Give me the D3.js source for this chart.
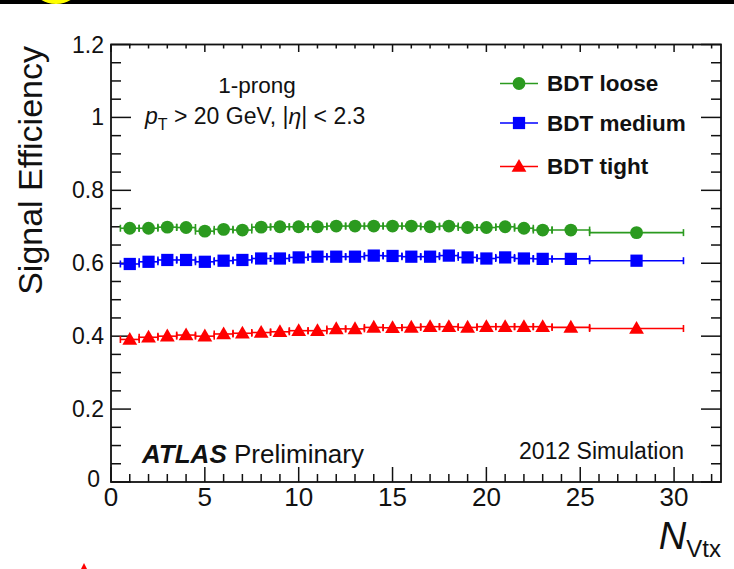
<!DOCTYPE html>
<html>
<head>
<meta charset="utf-8">
<script src="https://cdn.jsdelivr.net/npm/d3@7"></script>
<style>
  html, body { margin: 0; padding: 0; background: #fff; }
  svg { display: block; font-family: "Liberation Sans", Arial, Helvetica, sans-serif; }
</style>
</head>
<body>
<svg id="chart" width="734" height="569"></svg>
<script>
// Number of reconstructed vertices (bin centres) and bin edges
const nVtx    = [1,2,3,4,5,6,7,8,9,10,11,12,13,14,15,16,17,18,19,20,21,22,23,24.5,28];
const binLow  = [0.5,1.5,2.5,3.5,4.5,5.5,6.5,7.5,8.5,9.5,10.5,11.5,12.5,13.5,14.5,15.5,16.5,17.5,18.5,19.5,20.5,21.5,22.5,23.5,25.5];
const binHigh = [1.5,2.5,3.5,4.5,5.5,6.5,7.5,8.5,9.5,10.5,11.5,12.5,13.5,14.5,15.5,16.5,17.5,18.5,19.5,20.5,21.5,22.5,23.5,25.5,30.5];

// Signal efficiency per working point
const effLoose  = [0.696,0.696,0.699,0.698,0.688,0.693,0.691,0.699,0.700,0.700,0.700,0.702,0.702,0.702,
                   0.702,0.702,0.700,0.702,0.698,0.698,0.700,0.696,0.691,0.691,0.684];
const effMedium = [0.598,0.604,0.609,0.609,0.604,0.607,0.609,0.613,0.613,0.616,0.618,0.618,0.618,0.621,
                   0.620,0.618,0.618,0.621,0.616,0.613,0.616,0.613,0.612,0.612,0.607];
const effTight  = [0.391,0.397,0.400,0.403,0.400,0.406,0.408,0.410,0.412,0.415,0.415,0.420,0.420,0.424,
                   0.423,0.424,0.426,0.426,0.424,0.426,0.426,0.426,0.426,0.424,0.421];

const seriesNames = ["BDT loose", "BDT medium", "BDT tight"];
const xTicks = [0, 5, 10, 15, 20, 25, 30];
const yTicks = [0, 0.2, 0.4, 0.6, 0.8, 1, 1.2];

const svg = d3.select("#chart");

// decoration strip along the top edge
svg.append("rect").attr("x", 0).attr("y", 0).attr("width", 734).attr("height", 4).attr("fill", "#000");
svg.append("ellipse").attr("cx", 56).attr("cy", -12).attr("rx", 22).attr("ry", 16).attr("fill", "#ffff00");
svg.append("path").attr("d", "M84,563 L87,569 L81,569 Z").attr("fill", "#ff0000");

const frame = { left: 111, right: 721, top: 44.5, bottom: 482 };
const x = d3.scaleLinear().domain([0, 32.5]).range([frame.left, frame.right]);
const y = d3.scaleLinear().domain([0, 1.2]).range([frame.bottom, frame.top]);

const axisColor = "#111";
const g = svg.append("g");

// inward-pointing ticks on all four sides
function ticks(values, len, orient) {
  values.forEach(v => {
    if (orient === "bottom") {
      g.append("line").attr("x1", x(v)).attr("x2", x(v)).attr("y1", frame.bottom).attr("y2", frame.bottom - len);
    } else if (orient === "top") {
      g.append("line").attr("x1", x(v)).attr("x2", x(v)).attr("y1", frame.top).attr("y2", frame.top + len * 0.5);
    } else if (orient === "left") {
      g.append("line").attr("y1", y(v)).attr("y2", y(v)).attr("x1", frame.left).attr("x2", frame.left + len);
    } else {
      g.append("line").attr("y1", y(v)).attr("y2", y(v)).attr("x1", frame.right).attr("x2", frame.right - len);
    }
  });
}
const xMinor = d3.range(1, 33).filter(v => v % 5 !== 0);
const yMinor = d3.range(1, 24).map(i => i * 0.05).filter((v, i) => (i + 1) % 4 !== 0);
ticks(xTicks, 15, "bottom"); ticks(xMinor, 8, "bottom");
ticks(xTicks, 15, "top");    ticks(xMinor, 8, "top");
ticks(yTicks, 20, "left");   ticks(yMinor, 10, "left");
ticks(yTicks, 20, "right");  ticks(yMinor, 10, "right");
g.selectAll("line").attr("stroke", axisColor).attr("stroke-width", 1.5);

g.append("rect")
  .attr("x", frame.left).attr("y", frame.top)
  .attr("width", frame.right - frame.left).attr("height", frame.bottom - frame.top)
  .attr("fill", "none").attr("stroke", axisColor).attr("stroke-width", 1.8);

// tick labels
svg.append("g").selectAll("text").data(xTicks).join("text")
  .attr("x", d => x(d)).attr("y", 506)
  .attr("text-anchor", "middle").attr("font-size", 26).attr("fill", "#111")
  .text(d => d);
svg.append("g").selectAll("text").data(yTicks).join("text")
  .attr("x", 104).attr("y", d => d === 0 ? y(d) + 5 : y(d) + 8)
  .attr("text-anchor", "end").attr("font-size", 23).attr("fill", "#111")
  .attr("dx", d => d === 0 ? -4 : 0)
  .text(d => d);

// axis titles
svg.append("text")
  .attr("transform", "translate(42,46) rotate(-90)")
  .attr("text-anchor", "end").attr("font-size", 34).attr("fill", "#111")
  .text("Signal Efficiency");
const xt = svg.append("text").attr("x", 721).attr("y", 549).attr("text-anchor", "end").attr("fill", "#111");
xt.append("tspan").attr("font-size", 38).attr("font-style", "italic").text("N");
xt.append("tspan").attr("font-size", 24).attr("dy", 8).text("Vtx");

// data series
const series = [
  { name: seriesNames[0], values: effLoose,  color: "#2b9a1f", shape: d3.symbolCircle,   size: 130 },
  { name: seriesNames[1], values: effMedium, color: "#0000ff", shape: d3.symbolSquare,   size: 150 },
  { name: seriesNames[2], values: effTight,  color: "#ff0000", shape: d3.symbolTriangle, size: 95 }
];

series.forEach(s => {
  const sg = svg.append("g");
  nVtx.forEach((n, i) => {
    const yy = y(s.values[i]);
    sg.append("line").attr("x1", x(binLow[i])).attr("x2", x(binHigh[i])).attr("y1", yy).attr("y2", yy)
      .attr("stroke", s.color).attr("stroke-width", 1.6);
    [binLow[i], binHigh[i]].forEach(e => {
      sg.append("line").attr("x1", x(e)).attr("x2", x(e)).attr("y1", yy - 3.5).attr("y2", yy + 3.5)
        .attr("stroke", s.color).attr("stroke-width", 1.6);
    });
  });
  sg.selectAll("path").data(nVtx).join("path")
    .attr("d", d3.symbol().type(s.shape).size(s.size))
    .attr("transform", (d, i) => `translate(${x(d)},${y(s.values[i]) + (s.shape === d3.symbolTriangle ? 1 : 0)})`)
    .attr("fill", s.color);
});

// legend
const legendY = [83.5, 123, 166.5];
series.forEach((s, i) => {
  const ly = legendY[i];
  svg.append("line").attr("x1", 500).attr("x2", 538).attr("y1", ly).attr("y2", ly)
    .attr("stroke", s.color).attr("stroke-width", 1.6);
  svg.append("path").attr("d", d3.symbol().type(s.shape).size(s.size)())
    .attr("transform", `translate(519,${ly + (s.shape === d3.symbolTriangle ? 1 : 0)})`).attr("fill", s.color);
  svg.append("text").attr("x", 547).attr("y", ly + 7.5)
    .attr("font-size", 22.5).attr("font-weight", "bold").attr("fill", "#111")
    .text(s.name);
});

// selection labels
svg.append("text").attr("x", 257).attr("y", 93).attr("text-anchor", "middle")
  .attr("font-size", 22.5).attr("fill", "#111").text("1-prong");
const cut = svg.append("text").attr("x", 145).attr("y", 124).attr("font-size", 23).attr("fill", "#111");
cut.append("tspan").attr("font-style", "italic").text("p");
cut.append("tspan").attr("font-size", 16).attr("dy", 6).text("T");
cut.append("tspan").attr("dy", -6).text(" > 20 GeV, |");
cut.append("tspan").attr("font-style", "italic").text("η");
cut.append("tspan").text("| < 2.3");

const atlas = svg.append("text").attr("x", 142).attr("y", 463).attr("font-size", 26).attr("fill", "#111");
atlas.append("tspan").attr("font-weight", "bold").attr("font-style", "italic").text("ATLAS");
atlas.append("tspan").text(" Preliminary");
svg.append("text").attr("x", 684).attr("y", 459).attr("text-anchor", "end")
  .attr("font-size", 23).attr("fill", "#111").text("2012 Simulation");
</script>
</body>
</html>
